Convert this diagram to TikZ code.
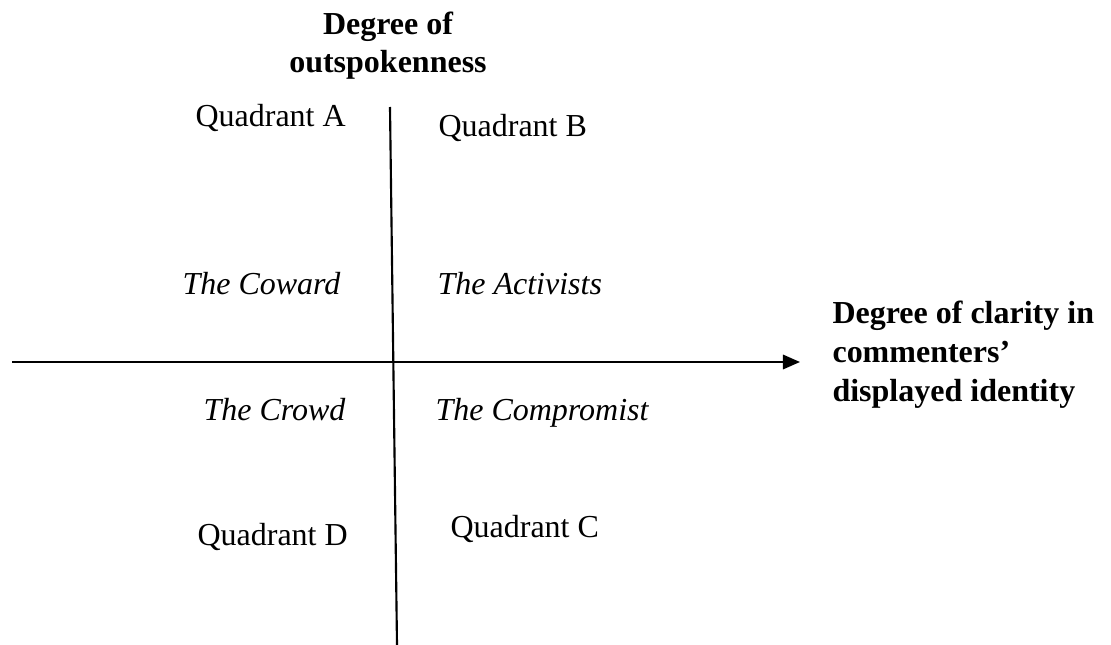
\documentclass[tikz,border=0pt]{standalone}
\usepackage{fontspec}
\setmainfont{Liberation Serif}
\usetikzlibrary{arrows.meta}
\begin{document}
\begin{tikzpicture}[x=0.375pt,y=-0.375pt,>={Triangle[length=6.4pt,width=5.4pt]},
    lab/.style={inner sep=0pt,anchor=base west,font=\fontsize{12}{14}\selectfont},
    axlab/.style={inner sep=0pt,align=left,font=\fontsize{12}{14.6}\selectfont\bfseries}]
    \useasboundingbox (0,0) rectangle (1111,645) ;
    \coordinate (top) at (390,107) ;
    \coordinate (bot) at (397,645) ;
    \coordinate (left) at (12,362) ;
    \coordinate (right) at (800,362) ;
    \node [axlab,align=center,anchor=base] (ylab) at (388,73) {Degree of\\outspokenness} ;
    \node [axlab,anchor=base west] (xlab) at (832,401) {Degree of clarity in\\commenters’\\displayed identity} ;
    \node [lab] (qa) at (195,127) {Quadrant A} ;
    \node [lab] (qb) at (438,137) {Quadrant B} ;
    \node [lab] (qc) at (450,537) {Quadrant C} ;
    \node [lab] (qd) at (197,545) {Quadrant D} ;
    \node [lab] (coward) at (182,295) {\itshape The Coward} ;
    \node [lab] (activ) at (437,295) {\itshape The Activists} ;
    \node [lab] (crowd) at (203,420) {\itshape The Crowd} ;
    \node [lab] (compr) at (435,420) {\itshape The Compromist} ;
    \draw [line width=0.8pt] (top) -- (bot) ;
    \draw [line width=0.8pt,->] (left) -- (right) ;
  \end{tikzpicture}
\end{document}
